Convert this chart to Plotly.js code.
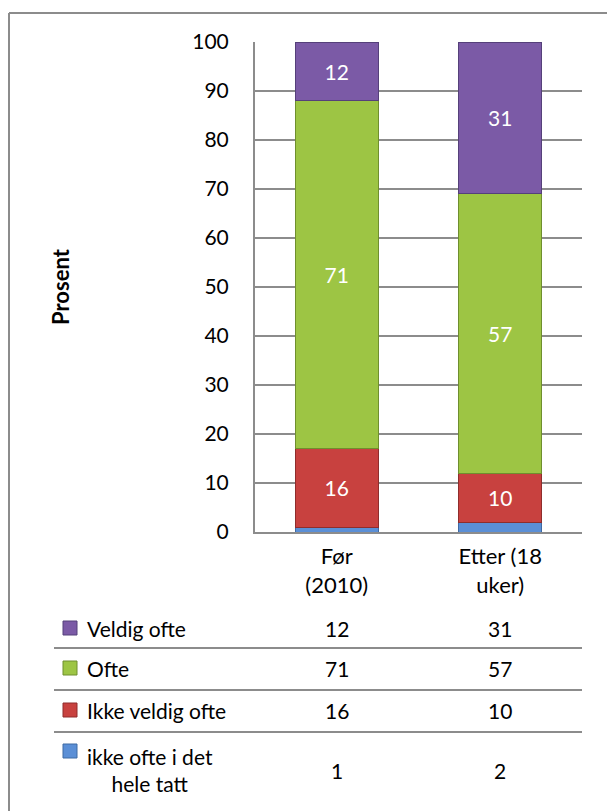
<!DOCTYPE html>
<html>
<head>
<meta charset="utf-8">
<script src="https://cdn.plot.ly/plotly-3.0.1.min.js"></script>
<style>
  html, body { margin: 0; padding: 0; background: #fff; }
  #chart { width: 607px; height: 811px; }
</style>
</head>
<body>
<div id="chart"></div>
<script>
const categories = ['Før<br>(2010)', 'Etter (18<br>uker)'];
const seriesNames = ['ikke ofte i det<br>hele tatt', 'Ikke veldig ofte', 'Ofte', 'Veldig ofte'];
const ikkeOfteIDetHeleTatt = [1, 2];
const ikkeVeldigOfte = [16, 10];
const ofte = [71, 57];
const veldigOfte = [12, 31];
const yTicks = [0, 10, 20, 30, 40, 50, 60, 70, 80, 90, 100];

const seriesValues = [ikkeOfteIDetHeleTatt, ikkeVeldigOfte, ofte, veldigOfte];
const colors = ['#5b8fd6', '#c8413f', '#9dc544', '#7b5aa6'];
const edges = ['#3f6aa3', '#8f2d2c', '#6f8f2e', '#55407a'];

const font = 'Lato, "Open Sans", sans-serif';

// plot area in pixels: x 255..582, y 42..532
const px = x => (x - 255) / 327;
const py = y => (532 - y) / 490;

const traces = seriesValues.map((vals, i) => ({
  x: categories,
  y: vals,
  type: 'bar',
  name: seriesNames[i],
  marker: {color: colors[i], line: {color: edges[i], width: 1}},
  text: i === 0 ? vals.map(() => '') : vals.map(String),
  textposition: 'inside',
  insidetextanchor: 'middle',
  textfont: {color: '#ffffff', size: 21, family: font},
  hoverinfo: 'name+y'
}));

// data table under the chart
const rowY = [628, 668, 710, 770];
const rowOrder = [3, 2, 1, 0];
const annotations = [];
const shapes = [];

rowOrder.forEach((s, r) => {
  const yc = rowY[r];
  annotations.push({
    xref: 'paper', yref: 'paper', x: px(85), y: py(yc),
    xanchor: 'left', yanchor: 'middle', align: 'center',
    text: seriesNames[s], showarrow: false,
    font: {family: font, size: 21, color: '#000'}
  });
  categories.forEach((c, k) => {
    annotations.push({
      xref: 'x', yref: 'paper', x: c, y: py(yc),
      xanchor: 'center', yanchor: 'middle',
      text: String(seriesValues[s][k]), showarrow: false,
      font: {family: font, size: 21, color: '#000'}
    });
  });
  const my = s === 0 ? 751 : yc;
  shapes.push({
    type: 'rect', xref: 'paper', yref: 'paper',
    x0: px(63), x1: px(77), y0: py(my - 7), y1: py(my + 7),
    fillcolor: colors[s], line: {color: edges[s], width: 1}
  });
});

[648, 690, 732].forEach(y => {
  shapes.push({
    type: 'line', xref: 'paper', yref: 'paper',
    x0: px(54), x1: px(582), y0: py(y), y1: py(y),
    line: {color: '#8c8c8c', width: 2}
  });
});

// outer chart border (left and top only, the rest is cut off)
shapes.push({
  type: 'line', xref: 'paper', yref: 'paper',
  x0: px(9), x1: px(607), y0: py(13), y1: py(13),
  line: {color: '#8c8c8c', width: 2}
});
shapes.push({
  type: 'line', xref: 'paper', yref: 'paper',
  x0: px(9), x1: px(9), y0: py(13), y1: py(811),
  line: {color: '#8c8c8c', width: 2}
});

annotations.push({
  xref: 'paper', yref: 'paper', x: px(60), y: py(287),
  xanchor: 'center', yanchor: 'middle', textangle: -90,
  text: '<b>Prosent</b>', showarrow: false,
  font: {family: font, size: 22, color: '#000'}
});

const layout = {
  width: 607,
  height: 811,
  margin: {l: 255, r: 25, t: 42, b: 279},
  paper_bgcolor: '#ffffff',
  plot_bgcolor: '#ffffff',
  barmode: 'stack',
  bargap: 0.49,
  showlegend: false,
  font: {family: font, size: 21, color: '#000'},
  xaxis: {
    showline: true,
    linecolor: '#8c8c8c',
    linewidth: 2,
    ticks: '',
    ticklabelstandoff: 4,
    tickfont: {family: font, size: 22, color: '#000'}
  },
  yaxis: {
    range: [0, 100],
    tickvals: yTicks,
    showline: true,
    linecolor: '#8c8c8c',
    linewidth: 2,
    gridcolor: '#8c8c8c',
    gridwidth: 1.5,
    ticks: '',
    ticklabelstandoff: 20,
    zeroline: false,
    tickfont: {family: font, size: 21, color: '#000'}
  },
  annotations: annotations,
  shapes: shapes
};

Plotly.newPlot('chart', traces, layout, {displayModeBar: false});
</script>
</body>
</html>
